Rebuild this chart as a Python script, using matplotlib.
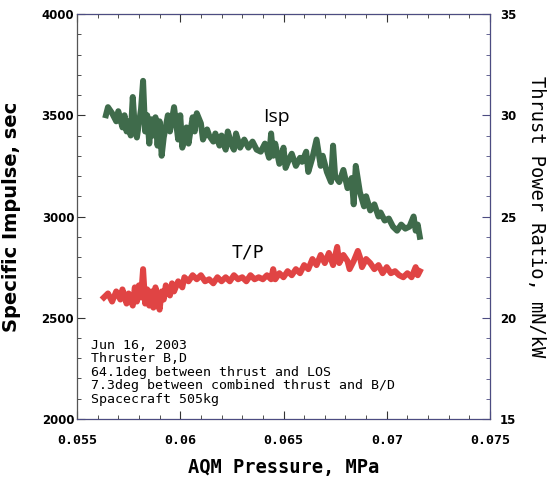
import matplotlib
matplotlib.use("Agg")
import matplotlib.pyplot as plt
from matplotlib.ticker import MultipleLocator

# Specific impulse (sec) vs AQM pressure (MPa)
isp_p = [0.0564, 0.0565, 0.0567, 0.0569, 0.0570, 0.0572, 0.0573, 0.0574, 0.0575, 0.0576,
         0.0577, 0.0578, 0.0579, 0.0581, 0.0582, 0.0583, 0.0584, 0.0585, 0.0586, 0.0587,
         0.0588, 0.0589, 0.0590, 0.0591, 0.0592, 0.0594, 0.0595, 0.0597, 0.0598, 0.0599,
         0.0600, 0.0601, 0.0603, 0.0604, 0.0606, 0.0607, 0.0608, 0.0610, 0.0611, 0.0613,
         0.0614, 0.0616, 0.0617, 0.0619, 0.0620, 0.0622, 0.0623, 0.0625, 0.0626, 0.0627,
         0.0629, 0.0631, 0.0633, 0.0635, 0.0637, 0.0639, 0.0641, 0.0643, 0.0644, 0.0645,
         0.0646, 0.0648, 0.0650, 0.0651, 0.0653, 0.0654, 0.0656, 0.0658, 0.0659, 0.0661,
         0.0662, 0.0664, 0.0666, 0.0668, 0.0669, 0.0671, 0.0673, 0.0674, 0.0675, 0.0677,
         0.0679, 0.0681, 0.0683, 0.0684, 0.0685, 0.0687, 0.0689, 0.0690, 0.0692, 0.0694,
         0.0696, 0.0697, 0.0699, 0.0701, 0.0703, 0.0705, 0.0707, 0.0709, 0.0711, 0.0713,
         0.0714, 0.0715, 0.0716]
isp = [3500, 3540, 3510, 3470, 3520, 3440, 3500, 3420, 3470, 3400,
       3590, 3440, 3390, 3530, 3670, 3420, 3500, 3360, 3480, 3400,
       3490, 3350, 3470, 3300, 3390, 3500, 3420, 3540, 3460, 3380,
       3500, 3340, 3440, 3360, 3490, 3420, 3510, 3460, 3380, 3430,
       3400, 3370, 3410, 3350, 3400, 3330, 3420, 3350, 3330, 3410,
       3340, 3380, 3340, 3370, 3330, 3320, 3360, 3290, 3410, 3300,
       3360, 3260, 3340, 3240, 3290, 3310, 3250, 3290, 3270, 3320,
       3220, 3290, 3380, 3250, 3300, 3220, 3170, 3350, 3200, 3170,
       3230, 3140, 3190, 3060, 3250, 3120, 3050, 3100, 3030, 3060,
       3000, 3020, 2980, 2990, 2950, 2930, 2960, 2940, 2950, 3000,
       2930, 2960, 2900]

# Thrust power ratio (mN/kW) vs AQM pressure (MPa)
tp_p = [0.0563, 0.0565, 0.0567, 0.0569, 0.0571, 0.0572, 0.0574, 0.0575, 0.0577, 0.0578,
        0.0579, 0.0580, 0.0581, 0.0582, 0.0583, 0.0584, 0.0585, 0.0586, 0.0587, 0.0588,
        0.0589, 0.0590, 0.0591, 0.0592, 0.0593, 0.0595, 0.0596, 0.0597, 0.0599, 0.0601,
        0.0602, 0.0604, 0.0606, 0.0608, 0.0610, 0.0612, 0.0614, 0.0616, 0.0618, 0.0620,
        0.0622, 0.0624, 0.0626, 0.0628, 0.0630, 0.0632, 0.0634, 0.0636, 0.0638, 0.0640,
        0.0642, 0.0644, 0.0645, 0.0646, 0.0648, 0.0650, 0.0652, 0.0654, 0.0656, 0.0658,
        0.0660, 0.0662, 0.0664, 0.0666, 0.0668, 0.0670, 0.0672, 0.0674, 0.0676, 0.0677,
        0.0679, 0.0681, 0.0682, 0.0684, 0.0686, 0.0687, 0.0688, 0.0690, 0.0692, 0.0694,
        0.0696, 0.0698, 0.0700, 0.0702, 0.0704, 0.0706, 0.0708, 0.0710, 0.0712, 0.0714,
        0.0715, 0.0716]
tp = [21.0, 21.2, 20.8, 21.3, 20.9, 21.4, 20.7, 21.2, 20.6, 21.5,
      20.8, 21.6, 21.0, 22.4, 20.7, 21.4, 20.6, 21.3, 20.5, 21.5,
      20.8, 20.4, 21.3, 20.9, 21.6, 21.1, 21.7, 21.3, 21.8, 21.5,
      22.0, 21.8, 22.1, 21.9, 22.1, 21.8, 21.9, 21.7, 22.0, 21.8,
      22.0, 21.8, 22.1, 21.9, 22.0, 21.8, 22.1, 21.9, 22.0, 21.9,
      22.1, 21.9, 22.4, 21.9, 22.2, 22.0, 22.3, 22.1, 22.4, 22.2,
      22.6, 22.4, 22.9, 22.6, 23.1, 22.7, 23.2, 22.6, 23.5, 22.7,
      23.1, 22.8, 22.4, 22.8, 23.3, 23.0, 22.5, 22.9, 22.7, 22.4,
      22.6, 22.2, 22.5, 22.2, 22.3, 22.1, 22.0, 22.2, 22.0, 22.5,
      22.1, 22.3]

notes = ["Jun 16, 2003", "Thruster B,D", "64.1deg between thrust and LOS",
         "7.3deg between combined thrust and B/D", "Spacecraft 505kg"]

mono = "DejaVu Sans Mono"
sans = "DejaVu Sans"
frame = "#4c4c82"

fig = plt.figure(figsize=(5.52, 4.83), dpi=100)
ax = fig.add_axes([77 / 552, 1 - 419 / 483, 413 / 552, 405 / 483])
ax2 = ax.twinx()

ax.plot(isp_p, isp, color="#3f6b4b", lw=4.3)
ax2.plot(tp_p, tp, color="#e04444", lw=4.3)

ax.set_xlim(0.055, 0.075)
ax.set_ylim(2000, 4000)
ax2.set_ylim(15, 35)

ax.set_xticks([0.055, 0.06, 0.065, 0.07, 0.075])
ax.set_xticklabels(["0.055", "0.06", "0.065", "0.07", "0.075"])
ax.xaxis.set_minor_locator(MultipleLocator(0.001))
ax.yaxis.set_major_locator(MultipleLocator(500))
ax.yaxis.set_minor_locator(MultipleLocator(100))
ax2.yaxis.set_major_locator(MultipleLocator(5))
ax2.yaxis.set_minor_locator(MultipleLocator(1))

ax.tick_params(which="both", direction="in", top=True, colors="#333333", labelcolor="black")
ax.tick_params(axis="x", which="major", length=6, pad=11, labelsize=9.6)
ax.tick_params(axis="y", which="major", length=6, pad=2, labelsize=8.5)
ax.tick_params(which="minor", length=3)
ax2.tick_params(which="both", direction="in", colors=frame, labelcolor="black", labelsize=8.5, pad=7)
ax2.tick_params(which="major", length=6)
ax2.tick_params(which="minor", length=3)
for lab in ax.get_xticklabels():
    lab.set_family(mono)
    lab.set_weight("bold")
for lab in ax.get_yticklabels() + ax2.get_yticklabels():
    lab.set_family(sans)
    lab.set_weight("bold")
for side in ["right", "top", "bottom"]:
    ax2.spines[side].set_color(frame)
ax2.spines["left"].set_color("#555555")

ax.set_xlabel("AQM Pressure, MPa", family=mono, weight="bold", fontsize=13.5, labelpad=8)
ax.set_ylabel("Specific Impulse, sec", family=sans, weight="bold", fontsize=14, labelpad=15)
ax2.set_ylabel("Thrust Power Ratio, mN/kW", family=mono, fontsize=13.5,
               rotation=-90, va="bottom", labelpad=8)

ax.text(0.06464, 3491, "Isp", family="Open Sans", fontsize=14, ha="center", va="center")
ax.text(0.06328, 2820, "T/P", family=mono, fontsize=13, ha="center", va="center")
ax.text(0.0557, 2230, "\n".join(notes), family=mono, fontsize=9.5,
        linespacing=1.05, ha="left", va="center")

fig.savefig("out.png", dpi=100)
